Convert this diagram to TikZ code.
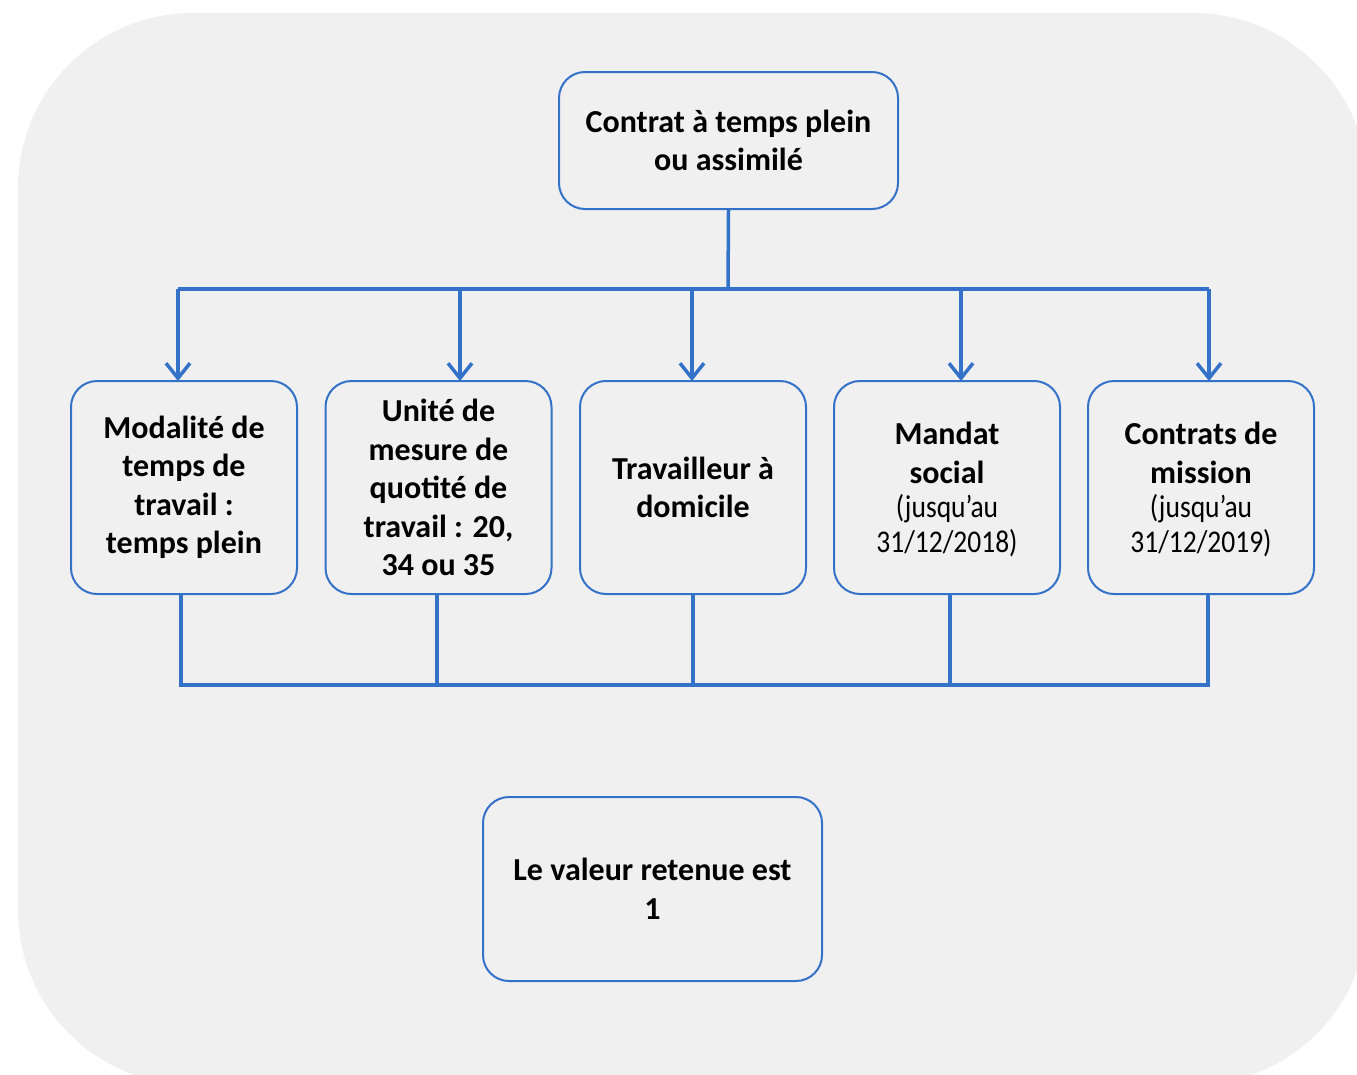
\documentclass[tikz,border=0pt]{standalone}
\usepackage{fontspec}
\setmainfont{Carlito}
\usetikzlibrary{arrows.meta}
\definecolor{bgc}{RGB}{240,240,240}
\definecolor{linec}{RGB}{52,113,200}
\newcommand{\smalltxt}[1]{{\fontsize{27.5}{34.5}\selectfont\mdseries\scalebox{1}[1.15]{#1}}}
\tikzset{
  box/.style={draw=linec, line width=2pt, rounded corners=26pt, fill=bgc, align=center,
    font=\fontsize{32}{38.5}\selectfont\bfseries, text=black, inner sep=0pt},
  mixbox/.style={box, text depth=0pt},
  conn/.style={draw=linec, line width=3.5pt},
  arr/.style={conn, -{Straight Barb[length=15pt,width=24pt]}},
}
\begin{document}
\begin{tikzpicture}[x=1pt,y=-1pt]
\useasboundingbox (0,0) rectangle (1357,1074);
\begin{scope}
\clip (0,0) rectangle (1357,1074);
\fill[bgc, rounded corners=175pt] (18,13) rectangle (1368,1085);
\end{scope}

\node[box, minimum width=339pt, minimum height=137pt] (top) at (728.5,140.5) {Contrat à temps plein\\ou assimilé};

\node[box, minimum width=226pt, minimum height=213pt] (b1) at (184,487.5) {Modalité de\\temps de\\travail :\\temps plein};
\node[box, minimum width=226pt, minimum height=213pt] (b2) at (438.5,487.5) {Unité de\\mesure de\\quotité de\\travail : 20,\\34 ou 35};
\node[box, minimum width=226pt, minimum height=213pt] (b3) at (693,487.5) {Travailleur à\\domicile};
\node[mixbox, minimum width=226pt, minimum height=213pt] (b4) at (947,487.5) {Mandat\\social\\[-4pt]\smalltxt{(jusqu’au}\\[-4pt]\smalltxt{31/12/2018)}};
\node[mixbox, minimum width=226pt, minimum height=213pt] (b5) at (1201,487.5) {Contrats de\\mission\\[-4pt]\smalltxt{(jusqu’au}\\[-4pt]\smalltxt{31/12/2019)}};

\node[box, minimum width=339pt, minimum height=184pt] (res) at (652.5,889) {Le valeur retenue est\\1};

\coordinate (hub) at (728,289);
\draw[conn] (top.south) -- (hub);
\draw[conn] (178,289) -- (1209,289);
\draw[arr] (178,289) -- (178,381);
\draw[arr] (460,289) -- (460,381);
\draw[arr] (692,289) -- (692,381);
\draw[arr] (961,289) -- (961,381);
\draw[arr] (1209,289) -- (1209,381);

\draw[conn] (181,594) -- (181,685) -- (1208,685) -- (1208,594);
\draw[conn] (437,594) -- (437,685);
\draw[conn] (693,594) -- (693,685);
\draw[conn] (950,594) -- (950,685);
\end{tikzpicture}
\end{document}
